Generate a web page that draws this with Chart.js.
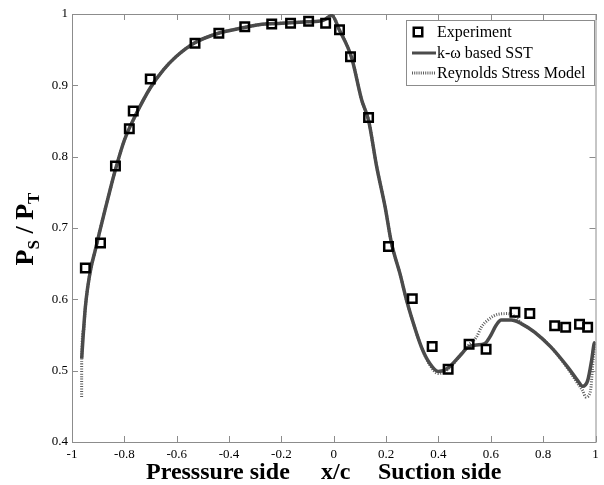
<!DOCTYPE html>
<html>
<head>
<meta charset="utf-8">
<script src="https://cdn.jsdelivr.net/npm/chart.js@4.4.1/dist/chart.umd.min.js"></script>
<style>
html,body{margin:0;padding:0;background:#fff;}
#wrap{width:604px;height:485px;position:relative;}
</style>
</head>
<body>
<div id="wrap"><canvas id="c" width="604" height="485"></canvas></div>
<script>
// ---- data ----
const expX = [-0.949,-0.891,-0.834,-0.781,-0.766,-0.701,-0.530,-0.439,-0.340,-0.237,-0.165,-0.096,-0.031,0.022,0.064,0.133,0.209,0.300,0.376,0.437,0.517,0.582,0.692,0.749,0.844,0.886,0.939,0.970];
const expY = [0.644,0.679,0.787,0.839,0.864,0.909,0.959,0.973,0.982,0.986,0.987,0.990,0.987,0.978,0.940,0.855,0.674,0.601,0.534,0.502,0.537,0.530,0.582,0.580,0.563,0.561,0.565,0.561];

const sstX = [-0.963,-0.956,-0.949,-0.940,-0.927,-0.911,-0.895,-0.870,-0.850,-0.834,-0.800,-0.756,-0.700,-0.650,-0.603,-0.534,-0.441,-0.342,-0.286,-0.200,-0.100,-0.040,-0.007,0.021,0.068,0.107,0.133,0.164,0.196,0.221,0.253,0.278,0.297,0.335,0.367,0.399,0.437,0.482,0.513,0.545,0.577,0.596,0.621,0.640,0.678,0.716,0.767,0.830,0.894,0.932,0.951,0.970,0.985,0.995,1.000];
const sstY = [0.517,0.556,0.589,0.617,0.645,0.669,0.694,0.731,0.760,0.782,0.823,0.859,0.897,0.922,0.940,0.959,0.973,0.981,0.985,0.987,0.989,0.991,0.998,0.978,0.939,0.879,0.851,0.786,0.730,0.678,0.636,0.599,0.575,0.533,0.510,0.499,0.504,0.521,0.533,0.536,0.538,0.547,0.564,0.571,0.571,0.566,0.554,0.533,0.505,0.486,0.478,0.486,0.514,0.538,0.540];

const rsmX = [-0.9632,-0.9631,-0.963,-0.956,-0.949,-0.940,-0.927,-0.911,-0.895,-0.870,-0.850,-0.834,-0.800,-0.756,-0.700,-0.650,-0.603,-0.534,-0.441,-0.342,-0.286,-0.200,-0.100,-0.040,-0.007,0.021,0.068,0.107,0.133,0.164,0.196,0.221,0.253,0.278,0.297,0.335,0.367,0.399,0.437,0.482,0.513,0.545,0.564,0.589,0.627,0.665,0.691,0.716,0.767,0.830,0.894,0.932,0.951,0.963,0.980,0.992,1.000];
const rsmY = [0.463,0.490,0.517,0.556,0.589,0.617,0.645,0.669,0.694,0.731,0.760,0.782,0.823,0.859,0.897,0.922,0.940,0.959,0.973,0.981,0.985,0.987,0.989,0.991,0.998,0.978,0.939,0.879,0.851,0.786,0.730,0.678,0.636,0.599,0.575,0.533,0.508,0.496,0.502,0.521,0.535,0.547,0.561,0.571,0.579,0.580,0.576,0.567,0.554,0.533,0.503,0.482,0.472,0.463,0.470,0.519,0.540];

const xTicks = [-1,-0.8,-0.6,-0.4,-0.2,0,0.2,0.4,0.6,0.8,1];
const xTickLabels = ['-1','-0.8','-0.6','-0.4','-0.2','0','0.2','0.4','0.6','0.8','1'];
const yTicks = [0.4,0.5,0.6,0.7,0.8,0.9,1];
const yTickLabels = ['0.4','0.5','0.6','0.7','0.8','0.9','1'];

const seriesNames = ['Experiment','k-\u03c9 based SST','Reynolds Stress Model'];
const xTitleParts = ['Presssure side','x/c','Suction side'];

// ---- chart ----
const toPts = (xs, ys) => xs.map((x,i)=>({x:x, y:ys[i]}));
const FRAME = '#8c8c8c';
const SST_C = '#4b4b4b';
const RSM_C = '#5c5c5c';

const framePlugin = {
  id:'frame',
  beforeDatasetsDraw(chart){
    const {ctx, chartArea:a, scales} = chart;
    ctx.save();
    ctx.strokeStyle = FRAME; ctx.lineWidth = 1;
    ctx.strokeRect(a.left+0.5, a.top+0.5, a.right-a.left, a.bottom-a.top);
    const L = 6;
    ctx.beginPath();
    xTicks.forEach(v=>{
      const px = Math.round(scales.x.getPixelForValue(v))+0.5;
      ctx.moveTo(px, a.bottom); ctx.lineTo(px, a.bottom-L);
      ctx.moveTo(px, a.top); ctx.lineTo(px, a.top+L);
    });
    yTicks.forEach(v=>{
      const py = Math.round(scales.y.getPixelForValue(v))+0.5;
      ctx.moveTo(a.left, py); ctx.lineTo(a.left+L, py);
      ctx.moveTo(a.right, py); ctx.lineTo(a.right-L, py);
    });
    ctx.stroke();
    ctx.restore();
  },
  afterDraw(chart){
    const {ctx} = chart;
    ctx.save();
    // legend
    const bx=406.5, by=20.5, bw=188, bh=65;
    ctx.fillStyle='#fff'; ctx.fillRect(bx,by,bw,bh);
    ctx.strokeStyle=FRAME; ctx.lineWidth=1; ctx.strokeRect(bx,by,bw,bh);
    ctx.font = '16px "Liberation Serif", "Times New Roman", serif';
    ctx.fillStyle='#000'; ctx.textBaseline='middle'; ctx.textAlign='left';
    const rows=[32,53,73];
    ctx.strokeStyle='#000'; ctx.lineWidth=2.5;
    ctx.strokeRect(418-4.25, rows[0]-4.25, 8.5, 8.5);
    ctx.strokeStyle=SST_C; ctx.lineWidth=3;
    ctx.beginPath(); ctx.moveTo(412, rows[1]); ctx.lineTo(436, rows[1]); ctx.stroke();
    ctx.strokeStyle=RSM_C; ctx.lineWidth=3; ctx.setLineDash([1,1.2]);
    ctx.beginPath(); ctx.moveTo(412, rows[2]); ctx.lineTo(436, rows[2]); ctx.stroke();
    ctx.setLineDash([]);
    seriesNames.forEach((n,i)=>ctx.fillText(n, 437, rows[i]+1));
    // x title
    ctx.font = 'bold 24px "Liberation Serif", "Times New Roman", serif';
    ctx.textBaseline='alphabetic';
    ctx.fillText(xTitleParts[0], 146, 479);
    ctx.fillText(xTitleParts[1], 321, 479);
    ctx.fillText(xTitleParts[2], 378, 479);
    // y title
    ctx.translate(33, 229);
    ctx.rotate(-Math.PI/2);
    const big='bold 26px "Liberation Serif", "Times New Roman", serif';
    const small='bold 17px "Liberation Serif", "Times New Roman", serif';
    const parts=[['P',big,0],['S',small,6],[' / ',big,0],['P',big,0],['T',small,6]];
    let w=0;
    parts.forEach(p=>{ctx.font=p[1]; w+=ctx.measureText(p[0]).width;});
    let x=-w/2;
    parts.forEach(p=>{ctx.font=p[1]; ctx.fillText(p[0], x, p[2]); x+=ctx.measureText(p[0]).width;});
    ctx.restore();
  }
};

new Chart(document.getElementById('c'), {
  type:'scatter',
  data:{
    datasets:[
      {label:seriesNames[0], data:toPts(expX,expY), showLine:false, pointStyle:'rect', pointRadius:6, pointBorderWidth:2.5, borderColor:'#000', backgroundColor:'rgba(0,0,0,0)', pointHoverRadius:6},
      {label:seriesNames[1], data:toPts(sstX,sstY), showLine:true, borderColor:SST_C, borderWidth:3.5, pointRadius:0, cubicInterpolationMode:'monotone', fill:false},
      {label:seriesNames[2], data:toPts(rsmX,rsmY), showLine:true, borderColor:RSM_C, borderWidth:3, borderDash:[1,1.5], pointRadius:0, cubicInterpolationMode:'monotone', fill:false}
    ]
  },
  options:{
    responsive:false, animation:false,
    layout:{padding:{top:14, right:6, left:0, bottom:0}},
    plugins:{legend:{display:false}, tooltip:{enabled:false}},
    scales:{
      x:{type:'linear', min:-1, max:1,
        afterBuildTicks(s){ s.ticks = xTicks.map(v=>({value:v})); },
        afterFit(s){ s.height = 43; },
        ticks:{callback:(v,i)=>xTickLabels[i], font:{family:'"Liberation Serif", serif', size:13}, color:'#000', padding:5, maxRotation:0, autoSkip:false},
        grid:{display:false, drawTicks:false}, border:{display:false}},
      y:{type:'linear', min:0.4, max:1,
        afterBuildTicks(s){ s.ticks = yTicks.map(v=>({value:v})); },
        afterFit(s){ s.width = 72; },
        ticks:{callback:(v,i)=>yTickLabels[i], font:{family:'"Liberation Serif", serif', size:13}, color:'#000', padding:4, autoSkip:false},
        grid:{display:false, drawTicks:false}, border:{display:false}}
    }
  },
  plugins:[framePlugin]
});
</script>
</body>
</html>
